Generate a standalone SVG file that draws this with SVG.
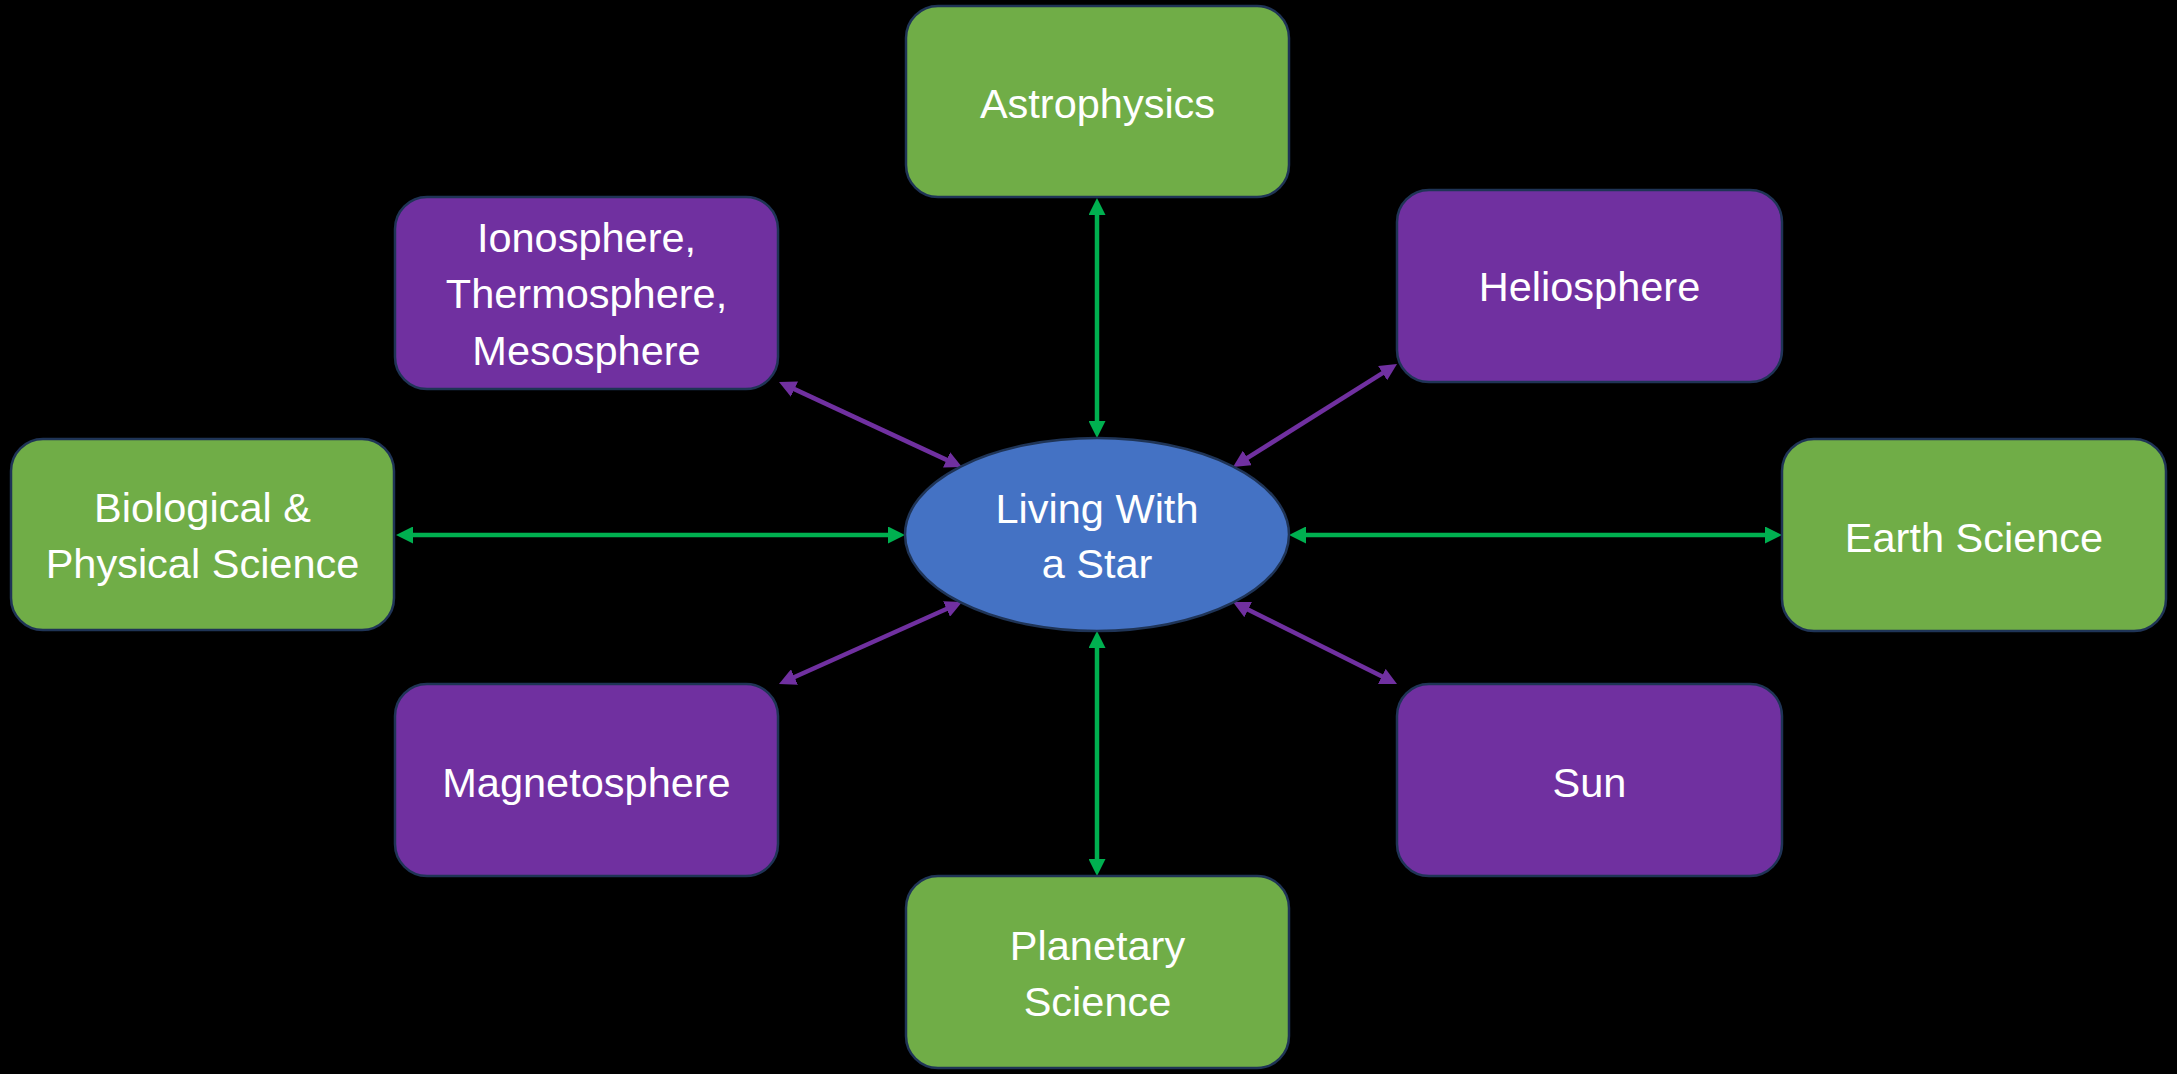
<svg xmlns="http://www.w3.org/2000/svg" width="2177" height="1074" viewBox="0 0 2177 1074">
<style>
.box{stroke:#1f3456;stroke-width:2.5}
.g{fill:#70ad47}
.p{fill:#7030a0}
.c{fill:#4472c4;stroke:#1f3456;stroke-width:2.5}
text{font-family:"Liberation Sans",Arial,sans-serif;font-size:41.5px;fill:#ffffff;text-anchor:middle}
.lg{stroke:#00b050;stroke-width:4.5;fill:none;marker-start:url(#ag);marker-end:url(#ag)}
.lp{stroke:#7030a0;stroke-width:4.5;fill:none;marker-start:url(#ap);marker-end:url(#ap)}
</style>
<defs>
<marker id="ag" markerUnits="userSpaceOnUse" markerWidth="18" markerHeight="17" refX="6" refY="8.5" orient="auto-start-reverse" viewBox="0 0 18 17">
<path d="M0,0 L17,8.5 L0,17 z" fill="#00b050"/>
</marker>
<marker id="ap" markerUnits="userSpaceOnUse" markerWidth="18" markerHeight="17" refX="6" refY="8.5" orient="auto-start-reverse" viewBox="0 0 18 17">
<path d="M0,0 L17,8.5 L0,17 z" fill="#7030a0"/>
</marker>
</defs>
<rect width="2177" height="1074" fill="#000000"/>
<g id="connectors">
<line class="lg" x1="1097" y1="209" x2="1097" y2="427"/>
<line class="lg" x1="1097" y1="642" x2="1097" y2="865"/>
<line class="lg" x1="407" y1="535" x2="894" y2="535"/>
<line class="lg" x1="1300" y1="535" x2="1771" y2="535"/>
<line class="lp" x1="789.0" y1="386.6" x2="952.0" y2="462.4"/>
<line class="lp" x1="1387.7" y1="369.9" x2="1242.3" y2="461.1"/>
<line class="lp" x1="789.0" y1="679.5" x2="952.0" y2="606.5"/>
<line class="lp" x1="1387.2" y1="679.1" x2="1242.8" y2="606.9"/>
</g>
<g id="astrophysics">
<rect class="box g" x="906" y="6" width="383" height="191" rx="32"/>
<text x="1097.5" y="118">Astrophysics</text>
</g>
<g id="ionosphere">
<rect class="box p" x="395" y="197" width="383" height="192" rx="32"/>
<text x="586.5" y="252">Ionosphere,</text>
<text x="586.5" y="308">Thermosphere,</text>
<text x="586.5" y="365">Mesosphere</text>
</g>
<g id="heliosphere">
<rect class="box p" x="1397" y="190" width="385" height="192" rx="32"/>
<text x="1589.5" y="301">Heliosphere</text>
</g>
<g id="biological">
<rect class="box g" x="11" y="439" width="383" height="191" rx="32"/>
<text x="202.5" y="522">Biological &amp;</text>
<text x="202.5" y="578">Physical Science</text>
</g>
<g id="center">
<ellipse class="c" cx="1097" cy="534.5" rx="192" ry="96.5"/>
<text x="1097" y="523">Living With</text>
<text x="1097" y="578">a Star</text>
</g>
<g id="earth">
<rect class="box g" x="1782" y="439" width="384" height="192" rx="32"/>
<text x="1974" y="552">Earth Science</text>
</g>
<g id="magnetosphere">
<rect class="box p" x="395" y="684" width="383" height="192" rx="32"/>
<text x="586.5" y="797">Magnetosphere</text>
</g>
<g id="sun">
<rect class="box p" x="1397" y="684" width="385" height="192" rx="32"/>
<text x="1589.5" y="797">Sun</text>
</g>
<g id="planetary">
<rect class="box g" x="906" y="876" width="383" height="192" rx="32"/>
<text x="1097.5" y="960">Planetary</text>
<text x="1097.5" y="1016">Science</text>
</g>
</svg>
